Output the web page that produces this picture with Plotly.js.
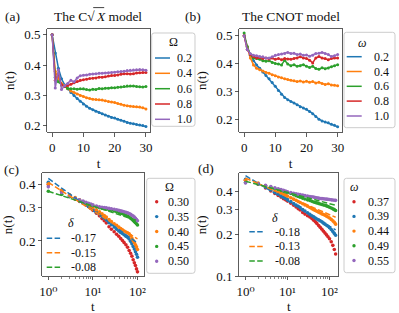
<!DOCTYPE html>
<html><head><meta charset="utf-8">
<script src="https://cdn.plot.ly/plotly-3.0.1.min.js"></script>
<style>html,body{margin:0;padding:0;background:#fff}#chart{width:399px;height:313px}</style>
</head><body><div id="chart"></div>
<script>
// ---------- data ----------
const tA = [0,1,2,3,4,5,6,7,8,9,10,11,12,13,14,15,16,17,18,19,20,21,22,23,24,25,26,27,28,29,30];
const omegaA = ['0.2','0.4','0.6','0.8','1.0'];
const a02 = [0.50,0.44,0.39,0.355,0.335,0.322,0.31,0.30,0.29,0.281,0.272,0.265,0.258,0.253,0.248,0.244,0.24,0.236,0.232,0.228,0.226,0.222,0.219,0.215,0.211,0.209,0.207,0.205,0.203,0.201,0.198];
const a04 = [0.50,0.38,0.355,0.34,0.332,0.322,0.315,0.31,0.305,0.30,0.297,0.293,0.29,0.288,0.287,0.286,0.285,0.283,0.28,0.279,0.277,0.274,0.271,0.268,0.266,0.265,0.264,0.263,0.262,0.26,0.256];
const a06 = [0.50,0.36,0.345,0.335,0.33,0.323,0.322,0.322,0.321,0.322,0.322,0.32,0.318,0.321,0.32,0.323,0.322,0.324,0.324,0.326,0.326,0.327,0.328,0.33,0.331,0.331,0.331,0.33,0.329,0.328,0.33];
const a08 = [0.50,0.35,0.37,0.335,0.33,0.333,0.337,0.342,0.346,0.35,0.352,0.354,0.356,0.357,0.358,0.36,0.36,0.362,0.364,0.366,0.366,0.368,0.37,0.372,0.372,0.371,0.372,0.374,0.375,0.376,0.376];
const a10 = [0.50,0.325,0.385,0.32,0.332,0.34,0.35,0.345,0.358,0.365,0.367,0.368,0.37,0.371,0.372,0.373,0.373,0.374,0.375,0.376,0.377,0.378,0.379,0.38,0.382,0.383,0.384,0.385,0.386,0.385,0.383];

const omegaB = ['0.2','0.4','0.6','0.8','1.0'];
const b02 = [0.50,0.46,0.43,0.41,0.395,0.383,0.37,0.357,0.345,0.332,0.318,0.303,0.29,0.278,0.27,0.264,0.258,0.252,0.245,0.24,0.236,0.228,0.22,0.21,0.20,0.194,0.19,0.187,0.182,0.178,0.173];
const b04 = [0.50,0.46,0.42,0.395,0.383,0.378,0.373,0.368,0.365,0.36,0.356,0.352,0.349,0.345,0.343,0.34,0.338,0.335,0.337,0.334,0.336,0.333,0.335,0.33,0.333,0.328,0.325,0.327,0.323,0.322,0.32];
const b06 = [0.51,0.46,0.432,0.42,0.418,0.415,0.41,0.408,0.41,0.404,0.40,0.398,0.395,0.412,0.398,0.392,0.396,0.39,0.392,0.396,0.39,0.386,0.39,0.382,0.379,0.385,0.381,0.384,0.388,0.392,0.396];
const b08 = [0.50,0.45,0.432,0.425,0.42,0.422,0.418,0.42,0.416,0.42,0.415,0.418,0.414,0.418,0.416,0.415,0.418,0.42,0.424,0.42,0.418,0.412,0.402,0.42,0.425,0.42,0.418,0.414,0.418,0.42,0.42];
const b10 = [0.50,0.45,0.435,0.43,0.428,0.425,0.424,0.42,0.42,0.424,0.43,0.432,0.434,0.436,0.44,0.436,0.437,0.432,0.434,0.43,0.431,0.426,0.43,0.436,0.437,0.44,0.436,0.432,0.425,0.428,0.432];

const tC = [1,2,3,4,5,6,7,8,9,10,12,14,16,18,20,23,26,30,34,38,42,46,50,55,60,65,70,75,80,85,90,95,100];
const omegaC = ['0.30','0.35','0.40','0.45','0.50'];
const c030 = [0.400,0.368,0.346,0.334,0.325,0.318,0.311,0.304,0.298,0.291,0.281,0.272,0.263,0.256,0.249,0.238,0.231,0.224,0.217,0.212,0.206,0.201,0.196,0.191,0.185,0.178,0.172,0.166,0.159,0.153,0.148,0.142,0.137];
const c035 = [0.410,0.372,0.350,0.336,0.326,0.319,0.312,0.306,0.300,0.295,0.287,0.279,0.272,0.265,0.259,0.250,0.244,0.237,0.231,0.226,0.222,0.219,0.216,0.212,0.209,0.205,0.199,0.193,0.187,0.181,0.175,0.170,0.164];
const c040 = [0.402,0.372,0.352,0.340,0.331,0.323,0.317,0.311,0.306,0.301,0.293,0.286,0.279,0.273,0.268,0.260,0.254,0.247,0.242,0.237,0.233,0.229,0.226,0.223,0.221,0.218,0.213,0.207,0.201,0.196,0.191,0.186,0.180];
const c045 = [0.368,0.354,0.344,0.336,0.329,0.323,0.318,0.314,0.311,0.308,0.304,0.301,0.299,0.297,0.295,0.293,0.291,0.289,0.286,0.284,0.281,0.279,0.277,0.274,0.271,0.268,0.264,0.261,0.257,0.253,0.250,0.247,0.243];
const c050 = [0.388,0.362,0.347,0.337,0.331,0.326,0.321,0.317,0.314,0.311,0.307,0.304,0.302,0.301,0.300,0.298,0.297,0.295,0.293,0.291,0.289,0.288,0.286,0.284,0.282,0.280,0.277,0.274,0.271,0.268,0.264,0.260,0.256];
const fitTC = [1,100];
const deltaC = ['-0.17','-0.15','-0.08'];
const fitC1 = [0.43,0.195];
const fitC2 = [0.41,0.205];
const fitC3 = [0.368,0.256];

const tD = [1,2,3,4,5,6,7,8,9,10,12,14,16,18,20,23,26,30,34,38,42,46,50,55,60,66,72,78,85,92,100,110,120,130,140];
const omegaD = ['0.37','0.39','0.44','0.49','0.55'];
const d037 = [0.480,0.452,0.425,0.405,0.388,0.376,0.366,0.357,0.350,0.343,0.331,0.321,0.311,0.303,0.296,0.285,0.277,0.270,0.264,0.258,0.251,0.244,0.238,0.230,0.223,0.216,0.209,0.203,0.197,0.191,0.185,0.176,0.166,0.155,0.144];
const d039 = [0.490,0.456,0.430,0.411,0.396,0.384,0.374,0.366,0.358,0.351,0.340,0.330,0.322,0.315,0.308,0.298,0.291,0.283,0.276,0.270,0.265,0.260,0.256,0.252,0.248,0.244,0.239,0.235,0.231,0.227,0.222,0.215,0.208,0.202,0.196];
const d044 = [0.482,0.460,0.440,0.424,0.411,0.401,0.392,0.385,0.378,0.372,0.362,0.354,0.347,0.341,0.335,0.328,0.322,0.315,0.309,0.303,0.298,0.294,0.290,0.286,0.282,0.278,0.275,0.272,0.268,0.264,0.260,0.254,0.248,0.242,0.235];
const d049 = [0.465,0.452,0.440,0.430,0.421,0.415,0.409,0.404,0.399,0.395,0.388,0.381,0.375,0.370,0.365,0.360,0.355,0.350,0.346,0.342,0.338,0.335,0.333,0.330,0.327,0.324,0.322,0.320,0.317,0.314,0.310,0.306,0.302,0.298,0.294];
const d055 = [0.462,0.455,0.445,0.435,0.426,0.420,0.415,0.410,0.405,0.400,0.395,0.390,0.387,0.384,0.382,0.378,0.375,0.372,0.370,0.368,0.366,0.364,0.362,0.360,0.358,0.357,0.356,0.355,0.354,0.353,0.352,0.350,0.349,0.348,0.347];
const fitTD = [1,140];
const deltaD = ['-0.18','-0.13','-0.08'];
const fitD1 = [0.52,0.214];
const fitD2 = [0.50,0.263];
const fitD3 = [0.475,0.32];

const logTickVals = [1,10,100];
const logTickText = ['10⁰','10¹','10²'];
const logMinorVals = [2,3,4,5,6,7,8,9,20,30,40,50,60,70,80,90];
const yTickC = [0.2,0.3,0.4];
const yTickD = [0.1,0.2,0.3,0.4];

// ---------- styling ----------
const colors = ['#1f77b4','#ff7f0e','#2ca02c','#d62728','#9467bd'];
const fitColors = ['#1f77b4','#ff7f0e','#2ca02c'];
const colorsC = ['#d62728','#1f77b4','#ff7f0e','#2ca02c','#9467bd'];
const F = '"Liberation Serif", "DejaVu Serif", serif';
const W = 399, H = 313;
const X = px => px / W;
const Y = py => 1 - py / H;

const traces = [];
[a02,a04,a06,a08,a10].forEach((s,i)=>traces.push({x:tA,y:s,xaxis:'x',yaxis:'y',mode:'lines+markers',
  line:{color:colors[i],width:1.5},marker:{size:3,color:colors[i]},showlegend:false,name:omegaA[i]}));
[b02,b04,b06,b08,b10].forEach((s,i)=>traces.push({x:tA,y:s,xaxis:'x2',yaxis:'y2',mode:'lines+markers',
  line:{color:colors[i],width:1.5},marker:{size:3,color:colors[i]},showlegend:false,name:omegaB[i]}));
[c030,c035,c040,c045,c050].forEach((s,i)=>traces.push({x:tC,y:s,xaxis:'x3',yaxis:'y3',mode:'markers',
  marker:{size:3.6,color:colorsC[i]},showlegend:false,name:omegaC[i]}));
[fitC1,fitC2,fitC3].forEach((s,i)=>traces.push({x:fitTC,y:s,xaxis:'x3',yaxis:'y3',mode:'lines',
  line:{color:fitColors[i],width:1.5,dash:'5.5px,2.4px'},showlegend:false,name:deltaC[i]}));
[d037,d039,d044,d049,d055].forEach((s,i)=>traces.push({x:tD,y:s,xaxis:'x4',yaxis:'y4',mode:'markers',
  marker:{size:3.6,color:colorsC[i]},showlegend:false,name:omegaD[i]}));
[fitD1,fitD2,fitD3].forEach((s,i)=>traces.push({x:fitTD,y:s,xaxis:'x4',yaxis:'y4',mode:'lines',
  line:{color:fitColors[i],width:1.5,dash:'5.5px,2.4px'},showlegend:false,name:deltaD[i]}));

const axBase = {showline:true,linecolor:'#333',linewidth:0.8,mirror:true,ticks:'outside',ticklen:3.5,
  tickwidth:0.8,tickcolor:'#333',showgrid:false,zeroline:false,tickfont:{family:F,size:13,color:'#111'}};
const ttl = (t,s) => ({text:t,font:{family:F,size:13,color:'#111'},standoff:s});
const logX = (dom,anchor,rng) => Object.assign({},axBase,{domain:dom,anchor:anchor,type:'log',range:rng,
  tickmode:'array',tickvals:logTickVals,ticktext:logTickText,tickfont:{family:F,size:13,color:'#111'},ticklen:3,
  minor:{ticks:'outside',ticklen:2,tickwidth:0.6,tickcolor:'#333',tickmode:'array',tickvals:logMinorVals}});

const annotations = [];
const shapes = [];
function txt(px,py,text,opts){
  annotations.push(Object.assign({xref:'paper',yref:'paper',x:X(px),y:Y(py),text:text,showarrow:false,
    xanchor:'left',yanchor:'middle',font:{family:F,size:12,color:'#111'}},opts||{}));
}
function rr(x0,y0,x1,y1,r){
  const f=(px,py)=>X(px).toFixed(5)+','+Y(py).toFixed(5);
  return 'M'+f(x0+r,y0)+' L'+f(x1-r,y0)+' Q'+f(x1,y0)+' '+f(x1,y0+r)+' L'+f(x1,y1-r)+' Q'+f(x1,y1)+' '+f(x1-r,y1)+
    ' L'+f(x0+r,y1)+' Q'+f(x0,y1)+' '+f(x0,y1-r)+' L'+f(x0,y0+r)+' Q'+f(x0,y0)+' '+f(x0+r,y0)+' Z';
}
const italic = {family:F,size:12,color:'#111',style:'italic'};
function legend(spec){
  if(spec.box){
    const b=spec.box;
    shapes.push({type:'path',xref:'paper',yref:'paper',path:rr(b[0],b[1],b[2],b[3],2.5),
      fillcolor:'rgba(255,255,255,0.8)',line:{color:'#cccccc',width:1}});
  }
  txt(spec.title[0],spec.title[1],spec.title[2],spec.italic?{xanchor:'center',font:italic}:{xanchor:'center'});
  spec.labels.forEach((lab,i)=>{
    const y=spec.ys[i];
    if(spec.kind==='dot'){
      const r=1.7, cx=spec.mx;
      shapes.push({type:'circle',xref:'paper',yref:'paper',x0:X(cx-r),x1:X(cx+r),y0:Y(y+r),y1:Y(y-r),
        fillcolor:spec.colors[i],line:{width:0}});
    } else {
      shapes.push({type:'line',xref:'paper',yref:'paper',x0:X(spec.mx[0]),x1:X(spec.mx[1]),y0:Y(y),y1:Y(y),
        line:{color:spec.colors[i],width:1.5,dash:spec.dash||'solid'}});
    }
    txt(spec.tx,y,lab);
  });
}
legend({box:[151.7,33,195,126.3],title:[173.3,42,'Ω'],ys:[58,73.3,88.7,104,119.3],mx:[155,170],tx:175,
  labels:omegaA,colors:colors,kind:'line'});
legend({box:[344,32.3,395,127.7],title:[362,43.3,'ω'],italic:true,ys:[56.7,71.5,86.3,101.1,116],mx:[346.7,361.7],tx:372,
  labels:omegaB,colors:colors,kind:'line'});
legend({box:[146.7,178.3,195,273.3],title:[169.3,187.3,'Ω'],ys:[201.7,216.6,231.5,246.4,261.3],mx:156.7,tx:166,
  labels:omegaC,colors:colorsC,kind:'dot'});
legend({box:[344,178.3,395,272.7],title:[354,187.3,'ω'],italic:true,ys:[201.7,216.4,231.1,245.8,260.5],mx:354,tx:366,
  labels:omegaD,colors:colorsC,kind:'dot'});
legend({title:[71,222.7,'δ'],italic:true,ys:[238.3,252.8,267.3],mx:[46.7,61.7],tx:69,labels:deltaC,colors:fitColors,
  kind:'line',dash:'5.5px,2.4px'});
legend({title:[275,218.3,'δ'],italic:true,ys:[231.7,246.4,261],mx:[249.3,265],tx:273,labels:deltaD,colors:fitColors,
  kind:'line',dash:'5.5px,2.4px'});

const head = {family:F,size:13.5,color:'#111'};
txt(12,16,'(a)',{xanchor:'center',font:head});
// "The C√X model": three pieces so that X can be italic with the radical's bar over it
txt(96.6,16,'The C√',{xanchor:'right',font:head});
txt(94.2,16,'X',{xanchor:'left',font:Object.assign({},head,{style:'italic'})});
txt(102.6,16,' model',{xanchor:'left',font:head});
shapes.push({type:'line',xref:'paper',yref:'paper',x0:X(93.2),x1:X(104.2),y0:Y(7.6),y1:Y(7.6),line:{color:'#111',width:0.8}});
txt(193,16,'(b)',{xanchor:'center',font:head});
txt(290.5,16,'The CNOT model',{xanchor:'center',font:head});
txt(11.5,170,'(c)',{xanchor:'center',font:head});
txt(206,168.5,'(d)',{xanchor:'center',font:head});
// x-axis titles of the two log panels
const axT = {family:F,size:13,color:'#111'};
txt(93.2,306.5,'t',{xanchor:'center',font:axT,borderpad:0});
txt(288.5,306.5,'t',{xanchor:'center',font:axT,borderpad:0});

const layout = {
  width:W,height:H,margin:{l:0,r:0,t:0,b:0},paper_bgcolor:'#fff',plot_bgcolor:'#fff',showlegend:false,
  font:{family:F,size:13,color:'#111'},
  xaxis:Object.assign({},axBase,{domain:[X(47.3),X(150)],anchor:'y',range:[-1.55,31.3],dtick:10,tick0:0,title:ttl('t',4)}),
  yaxis:Object.assign({},axBase,{domain:[Y(132.3),Y(29)],anchor:'x',range:[0.179,0.519],dtick:0.1,tick0:0,tickformat:'.1f',title:ttl('n(t)',6)}),
  xaxis2:Object.assign({},axBase,{domain:[X(239.3),X(341.7)],anchor:'y2',range:[-1.55,31.3],dtick:10,tick0:0,title:ttl('t',4)}),
  yaxis2:Object.assign({},axBase,{domain:[Y(132.3),Y(29)],anchor:'x2',range:[0.153,0.524],dtick:0.1,tick0:0,tickformat:'.1f',title:ttl('n(t)',6)}),
  xaxis3:logX([X(42.3),X(144)],'y3',[-0.135,2.146]),
  yaxis3:Object.assign({},axBase,{domain:[Y(276.3),Y(173.3)],anchor:'x3',type:'log',range:[-0.887,-0.339],
    tickmode:'array',tickvals:yTickC,ticktext:yTickC.map(v=>v.toFixed(1)),title:ttl('n(t)',6)}),
  xaxis4:logX([X(239.3),X(337.7)],'y4',[-0.148,2.195]),
  yaxis4:Object.assign({},axBase,{domain:[Y(276.3),Y(173.3)],anchor:'x4',type:'log',range:[-1,-0.267],
    tickmode:'array',tickvals:yTickD,ticktext:yTickD.map(v=>v.toFixed(1)),title:ttl('n(t)',6)}),
  annotations:annotations,shapes:shapes
};
Plotly.newPlot('chart',traces,layout,{staticPlot:true,displayModeBar:false});
</script></body></html>
